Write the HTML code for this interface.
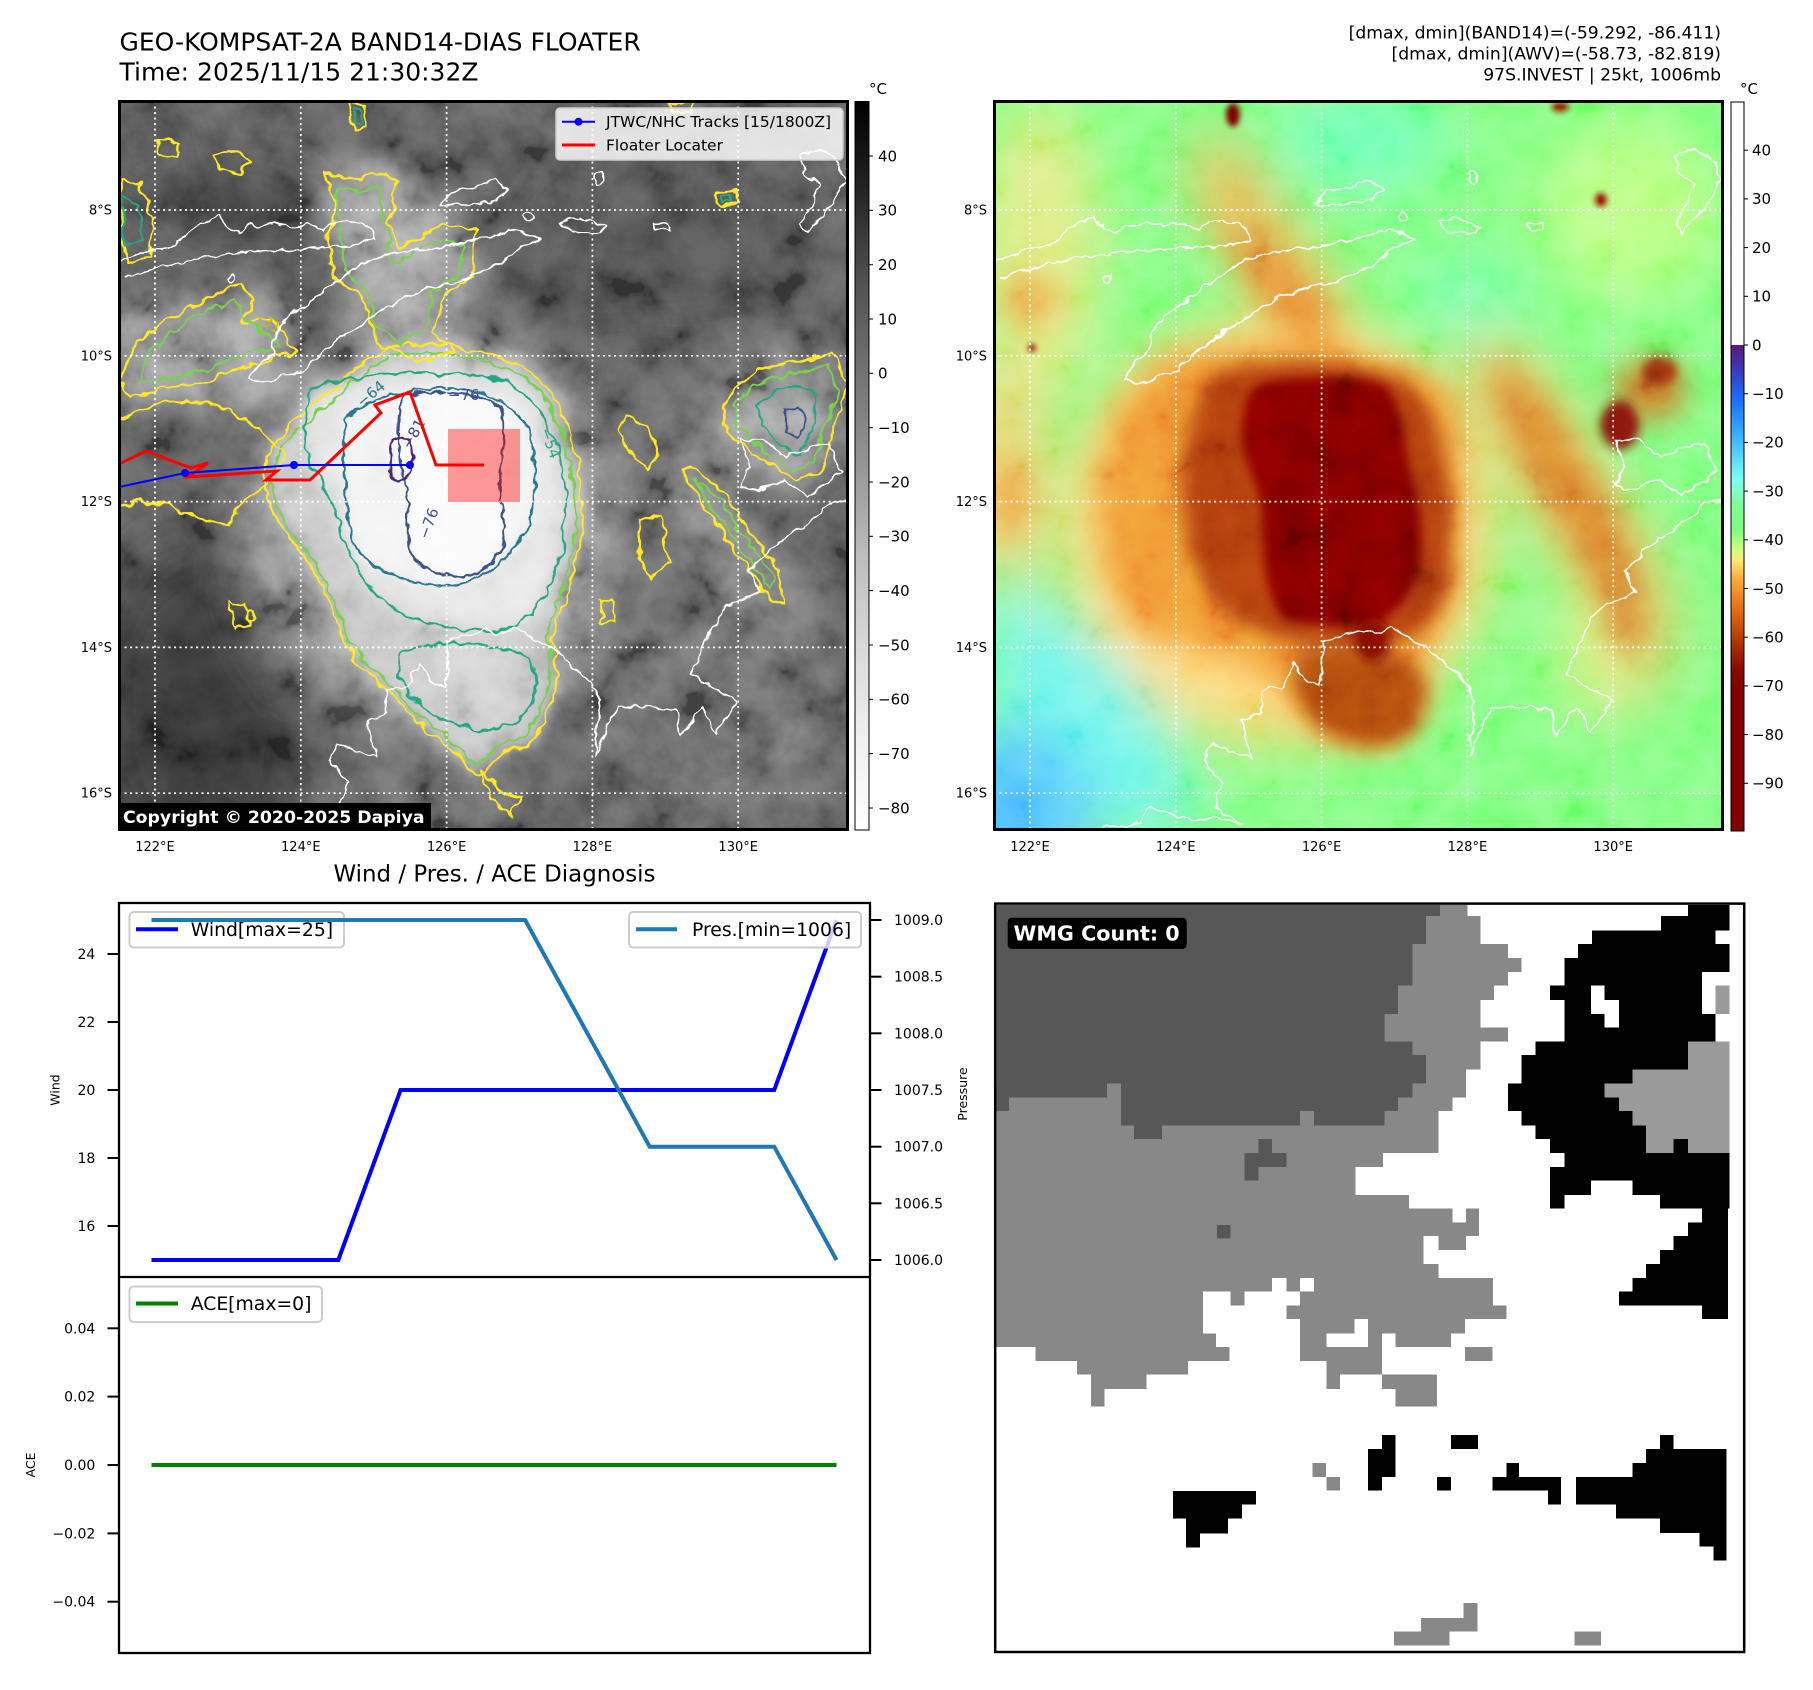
<!DOCTYPE html>
<html><head><meta charset="utf-8"><style>
html,body{margin:0;padding:0;background:#fff;width:1813px;height:1690px;overflow:hidden}
svg{display:block}
text{font-family:"DejaVu Sans","Liberation Sans",sans-serif}
</style></head><body>
<svg width="1813" height="1690" viewBox="0 0 1813 1690" xmlns="http://www.w3.org/2000/svg">
<defs>
<clipPath id="cl"><rect x="119" y="101" width="729" height="729"/></clipPath>
<clipPath id="cr"><rect x="994" y="101" width="729" height="729"/></clipPath>
<filter id="b28" x="-50%" y="-50%" width="200%" height="200%"><feGaussianBlur stdDeviation="28"/></filter>
<filter id="b16" x="-50%" y="-50%" width="200%" height="200%"><feGaussianBlur stdDeviation="16"/></filter>
<filter id="b9" x="-50%" y="-50%" width="200%" height="200%"><feGaussianBlur stdDeviation="9"/></filter>
<filter id="b5" x="-50%" y="-50%" width="200%" height="200%"><feGaussianBlur stdDeviation="5"/></filter>
<filter id="b3" x="-50%" y="-50%" width="200%" height="200%"><feGaussianBlur stdDeviation="3"/></filter>
<filter id="noise" x="0" y="0" width="100%" height="100%"><feTurbulence type="fractalNoise" baseFrequency="0.022" numOctaves="4" seed="7"/><feColorMatrix type="matrix" values="1.9 0 0 0 -0.45  1.9 0 0 0 -0.45  1.9 0 0 0 -0.45  0 0 0 0 1"/></filter>
<filter id="noise2" x="0" y="0" width="100%" height="100%"><feTurbulence type="fractalNoise" baseFrequency="0.025" numOctaves="4" seed="11"/><feColorMatrix type="matrix" values="1.6 0 0 0 -0.3  1.6 0 0 0 -0.3  1.6 0 0 0 -0.3  0 0 0 0 1"/></filter>
<filter id="wig" x="-5%" y="-5%" width="110%" height="110%"><feTurbulence type="fractalNoise" baseFrequency="0.07" numOctaves="2" seed="5" result="t"/><feDisplacementMap in="SourceGraphic" in2="t" scale="12" xChannelSelector="R" yChannelSelector="G"/></filter>
<filter id="wig2" x="-5%" y="-5%" width="110%" height="110%"><feTurbulence type="fractalNoise" baseFrequency="0.09" numOctaves="2" seed="9" result="t"/><feDisplacementMap in="SourceGraphic" in2="t" scale="8" xChannelSelector="R" yChannelSelector="G"/></filter>
<linearGradient id="gl" x1="0" y1="0" x2="0" y2="1">
<stop offset="0" stop-color="#000"/><stop offset="0.125" stop-color="#252525"/><stop offset="0.25" stop-color="#525252"/><stop offset="0.375" stop-color="#737373"/><stop offset="0.5" stop-color="#969696"/><stop offset="0.625" stop-color="#bdbdbd"/><stop offset="0.75" stop-color="#d9d9d9"/><stop offset="0.875" stop-color="#f0f0f0"/><stop offset="1" stop-color="#fff"/>
</linearGradient>
<linearGradient id="gr" x1="0" y1="0" x2="0" y2="1">
<stop offset="0" stop-color="#fff"/><stop offset="0.333" stop-color="#fff"/><stop offset="0.3335" stop-color="#5b1a78"/><stop offset="0.3676" stop-color="#3a3ab8"/><stop offset="0.4088" stop-color="#1a70ff"/><stop offset="0.4636" stop-color="#40b8ff"/><stop offset="0.5185" stop-color="#80fff0"/><stop offset="0.5528" stop-color="#80ff98"/><stop offset="0.5871" stop-color="#80ff80"/><stop offset="0.6145" stop-color="#d0ff80"/><stop offset="0.6283" stop-color="#ffe878"/><stop offset="0.6557" stop-color="#ffa838"/><stop offset="0.6996" stop-color="#e06a10"/><stop offset="0.738" stop-color="#b03a00"/><stop offset="0.7791" stop-color="#880800"/><stop offset="0.8066" stop-color="#800000"/><stop offset="1" stop-color="#800000"/>
</linearGradient>
<g id="coast" fill="none" stroke="#fff" stroke-width="1.6" stroke-linejoin="round">
<path d="M277,333 L272,353 L254,370 L249,380 L266,383 L301,370 L347,333 L399,300 L422,290 L462,280 L503,263 L520,247 L540,240 L526,233 L509,230 L491,237 L462,243 L416,250 L393,253 L370,260 L358,267 L335,283 L312,300 L289,317 Z"/>
<path d="M119,262 L150,250 L173,247 L185,236 L191,230 L205,222 L220,217 L228,228 L240,232 L252,224 L260,227 L275,222 L289,227 L305,224 L324,230 L335,222 L347,220 L360,224 L370,227 L376,240 L350,246 L324,247 L300,249 L277,250 L243,253 L208,257 L180,262 L150,270 L125,278"/>
<path d="M440,205 L452,192 L478,186 L495,180 L508,190 L496,200 L470,205 Z"/>
<path d="M562,222 L580,217 L605,227 L600,233 L575,232 Z"/>
<path d="M653,224 L668,223 L670,229 L656,230 Z"/>
<path d="M226,827 L265,823 L275,807 L300,815 L319,820 L340,818 L367,823 L338,807 L348,783 L328,760 L338,743 L357,752 L377,757 L367,720 L386,713 L386,690 L406,687 L420,663 L430,680 L445,687 L449,640 L465,636 L488,630 L500,634 L517,627 L535,640 L551,647 L565,660 L580,673 L592,685 L600,700 L597,730 L595,757 L607,725 L619,707 L648,707 L677,710 L680,737 L702,707 L716,733 L738,700 L716,690 L692,673 L702,650 L712,628 L726,607 L760,593 L750,570 L774,547 L803,527 L832,503 L848,500"/>
<path d="M740,440 L765,440 L784,457 L808,448 L828,443 L842,470 L808,497 L784,480 L760,490 L740,487 L750,467 Z"/>
<path d="M800,155 L820,150 L838,160 L846,180 L835,200 L822,215 L808,232 L800,225 L812,205 L820,185 L805,175 Z"/>
<path d="M232,275 a4,4 0 1,0 0.1,0 Z M528,212 a4,5 0 1,0 0.1,0 Z M598,172 a4,6 0 1,0 0.1,0 Z"/>
</g>
<g id="grid" stroke="#fff" stroke-width="1.7" stroke-dasharray="2.1 3.4">
<line x1="155" y1="101" x2="155" y2="830"/><line x1="300.8" y1="101" x2="300.8" y2="830"/><line x1="446.6" y1="101" x2="446.6" y2="830"/><line x1="592.4" y1="101" x2="592.4" y2="830"/><line x1="738.2" y1="101" x2="738.2" y2="830"/>
<line x1="119" y1="210" x2="848" y2="210"/><line x1="119" y1="355.8" x2="848" y2="355.8"/><line x1="119" y1="501.6" x2="848" y2="501.6"/><line x1="119" y1="647.4" x2="848" y2="647.4"/><line x1="119" y1="793.2" x2="848" y2="793.2"/>
</g>
</defs>

<!-- ===== Titles ===== -->
<text x="119.5" y="50.7" font-size="25">GEO-KOMPSAT-2A BAND14-DIAS FLOATER</text>
<text x="119.5" y="80.7" font-size="25">Time: 2025/11/15 21:30:32Z</text>
<g font-size="17.2" text-anchor="end">
<text x="1721" y="38.5">[dmax, dmin](BAND14)=(-59.292, -86.411)</text>
<text x="1721" y="59.5">[dmax, dmin](AWV)=(-58.73, -82.819)</text>
<text x="1721" y="80.5">97S.INVEST | 25kt, 1006mb</text>
</g>

<!-- ===== Left map ===== -->
<g clip-path="url(#cl)">
<rect x="119" y="101" width="729" height="729" fill="#585858"/>
<g filter="url(#b28)">
<ellipse cx="235" cy="205" rx="80" ry="30" fill="#383838"/>
<ellipse cx="335" cy="280" rx="45" ry="30" fill="#404040"/>
<ellipse cx="150" cy="140" rx="40" ry="30" fill="#4a4a4a"/>
<ellipse cx="580" cy="280" rx="70" ry="70" fill="#484848"/>
<ellipse cx="680" cy="230" rx="120" ry="110" fill="#4e4e4e"/>
<ellipse cx="650" cy="170" rx="60" ry="40" fill="#505050"/>
<ellipse cx="200" cy="710" rx="110" ry="170" fill="#363636"/>
<ellipse cx="720" cy="700" rx="140" ry="120" fill="#646464"/>
<ellipse cx="430" cy="805" rx="120" ry="40" fill="#646464"/>
<ellipse cx="780" cy="420" rx="65" ry="55" fill="#a0a0a0"/>
<path d="M640,420 L700,470 L780,580 L790,640 L760,620 L700,540 L650,470 Z" fill="#8c8c8c"/>
<ellipse cx="430" cy="530" rx="185" ry="200" fill="#8a8a8a"/>
</g>
<g filter="url(#b16)">
<path d="M324,171 L379,165 L410,182 L450,225 L475,240 L470,290 L440,330 L450,360 L380,365 L350,300 L330,270 L325,220 Z" fill="#9a9a9a"/>
<path d="M119,300 L175,305 L230,285 L285,300 L300,350 L285,400 L230,410 L160,400 L119,420 Z" fill="#8e8e8e"/>
</g>
<g filter="url(#b9)">
<path d="M400,345 C440,340 500,350 530,372 C560,395 578,440 582,505 C585,560 562,600 552,640 C565,680 550,720 528,745 C510,752 495,755 490,768 C480,780 470,772 462,760 C450,745 430,738 410,715 C390,690 360,670 345,645 C335,610 320,575 295,545 C268,515 258,480 270,450 C285,425 320,400 345,380 C365,360 380,350 400,345 Z" fill="#c2c2c2"/>
<path d="M320,385 C370,372 450,368 500,380 C540,395 565,440 566,500 C566,555 548,600 520,625 C490,636 440,630 400,612 C370,595 348,560 338,520 C330,490 308,470 305,440 C303,410 305,392 320,385 Z" fill="#e4e4e4"/>
<path d="M400,650 C440,640 500,640 530,660 C545,690 530,720 500,728 C470,735 440,720 420,705 C400,685 395,665 400,650 Z" fill="#cacaca"/>
</g>
<g filter="url(#b5)">
<path d="M345,420 C360,400 400,390 440,388 C480,388 515,400 528,430 C537,460 538,495 528,525 C515,555 490,578 450,586 C410,586 375,572 355,548 C345,520 342,460 345,420 Z" fill="#f2f2f2"/>
<path d="M405,395 C430,390 475,392 500,405 C508,430 498,470 500,500 C510,530 505,555 480,572 C455,582 425,575 412,555 C402,530 415,505 402,475 C396,440 398,410 405,395 Z" fill="#fbfbfb"/>
</g>
<rect x="119" y="101" width="729" height="729" filter="url(#noise)" opacity="0.35" style="mix-blend-mode:overlay"/>
<!-- contours -->
<g fill="none" stroke-width="2.2" stroke-linejoin="round" filter="url(#wig)">
<path d="M400,345 C440,340 500,350 530,372 C560,395 578,440 582,505 C585,560 562,600 552,640 C565,680 550,720 528,745 C510,752 495,755 490,768 C480,780 470,772 462,760 C450,745 430,738 410,715 C390,690 360,670 345,645 C335,610 320,575 295,545 C268,515 258,480 270,450 C285,425 320,400 345,380 C365,360 380,350 400,345 Z" stroke="#fde725"/>
<path d="M400,345 C440,340 500,350 530,372 C560,395 578,440 582,505 C585,560 562,600 552,640 C565,680 550,720 528,745 C510,752 495,755 490,768 C480,780 470,772 462,760 C450,745 430,738 410,715 C390,690 360,670 345,645 C335,610 320,575 295,545 C268,515 258,480 270,450 C285,425 320,400 345,380 C365,360 380,350 400,345 Z" stroke="#7ad151" transform="translate(430 540) scale(0.955) translate(-430 -540)" vector-effect="non-scaling-stroke"/>
<path d="M320,385 C370,372 450,368 500,380 C540,395 565,440 566,500 C566,555 548,600 520,625 C490,636 440,630 400,612 C370,595 348,560 338,520 C330,490 308,470 305,440 C303,410 305,392 320,385 Z" stroke="#22a884"/>
<path d="M400,650 C440,640 500,640 530,660 C545,690 530,720 500,728 C470,735 440,720 420,705 C400,685 395,665 400,650 Z" stroke="#22a884"/>
<path d="M324,171 L351,180 L379,171 L398,180 L389,222 L398,250 L444,222 L477,231 L472,278 L444,296 L435,333 L454,352 L417,361 L379,343 L361,296 L333,278 L328,240 L337,203 Z" stroke="#fde725"/>
<path d="M338,190 L355,192 L378,186 L385,225 L392,262 L440,240 L462,245 L460,275 L434,290 L424,330 L400,345 L375,325 L368,290 L345,270 L340,235 Z" stroke="#7ad151"/>
<path d="M175,315 L212,296 L240,282 L254,301 L240,324 L272,319 L296,352 L258,361 L212,380 L165,389 L133,399 L119,380 L140,340 Z" stroke="#fde725"/>
<path d="M185,322 L215,308 L236,300 L242,318 L262,330 L280,350 L250,352 L210,368 L170,378 L140,382 L150,350 Z" stroke="#7ad151"/>
<path d="M119,420 L150,405 L190,400 L230,410 L260,430 L285,455 L270,480 L245,500 L230,525 L200,520 L170,505 L140,500 L119,505" stroke="#fde725"/>
<path d="M757,370 L792,363 L832,353 L847,383 L832,433 L821,473 L798,480 L769,467 L728,430 L723,407 L740,383 Z" stroke="#fde725"/>
<path d="M765,380 L795,373 L828,366 L838,390 L824,430 L812,465 L795,470 L772,458 L738,426 L734,408 L748,390 Z" stroke="#7ad151"/>
<path d="M775,392 L800,386 L818,395 L812,430 L800,455 L784,448 L760,425 L758,405 Z" stroke="#22a884"/>
<path d="M682,470 L707,510 L741,560 L770,600 L784,603 L780,570 L746,527 L726,493 L692,467 Z" stroke="#fde725"/>
<path d="M695,480 L715,512 L745,555 L770,590 L774,575 L740,530 L722,500 Z" stroke="#7ad151"/>
<path d="M625,415 L645,425 L660,450 L650,470 L630,455 L620,430 Z" stroke="#fde725"/>
<path d="M157,140 L180,142 L178,157 L160,155 Z M213,155 L230,150 L253,160 L240,173 L220,168 Z" stroke="#fde725"/>
<path d="M120,180 L140,182 L153,220 L150,257 L128,262 L122,230 Z" stroke="#fde725"/>
<path d="M122,195 L138,205 L142,240 L126,245 Z" stroke="#22a884"/>
<path d="M640,520 L660,515 L668,560 L652,580 L640,560 Z M600,600 L612,598 L615,620 L602,622 Z" stroke="#fde725"/>
<path d="M480,770 L500,790 L520,800 L510,815 L490,800 Z" stroke="#fde725"/>
<path d="M230,600 L245,605 L250,625 L235,628 Z M250,610 a4,5 0 1,0 0.1,0 Z" stroke="#fde725"/>
</g>
<g fill="none" stroke-width="2.2" stroke-linejoin="round" filter="url(#wig2)">
<path d="M345,420 C360,400 400,390 440,388 C480,388 515,400 528,430 C537,460 538,495 528,525 C515,555 490,578 450,586 C410,586 375,572 355,548 C345,520 342,460 345,420 Z" stroke="#2a788e"/>
<path d="M405,395 C430,390 475,392 500,405 C508,430 498,470 500,500 C510,530 505,555 480,572 C455,582 425,575 412,555 C402,530 415,505 402,475 C396,440 398,410 405,395 Z" stroke="#3b528b"/>
<path d="M392,440 C402,432 415,440 412,460 C410,480 398,488 390,475 Z" stroke="#482878"/>
<path d="M785,410 L798,405 L806,420 L798,440 L786,432 Z" stroke="#3b528b"/>
<path d="M350,103 L364,106 L366,128 L355,130 L349,115 Z M714,192 L734,190 L738,203 L720,206 Z M668,103 L694,103 L692,112 L672,112 Z" stroke="#fde725"/>
<path d="M354,108 L361,110 L361,124 L355,122 Z M720,195 L730,194 L731,201 L722,202 Z" stroke="#22a884"/>
</g>
<g font-size="15">
<text x="362" y="408" fill="#2a788e" transform="rotate(-40 362 408)">−64</text>
<text x="448" y="400" fill="#3b528b">−76</text>
<text x="410" y="450" fill="#414487" transform="rotate(-60 410 450)">−81</text>
<text x="540" y="430" fill="#22a884" transform="rotate(70 540 430)">−54</text>
<text x="250" y="318" fill="#c9b820" transform="rotate(30 250 318)">−31</text>
<text x="428" y="540" fill="#3b528b" transform="rotate(-70 428 540)">−76</text>
</g>
<g filter="url(#wig2)"><use href="#coast"/></g>
<use href="#grid"/>
<rect x="448" y="429" width="72" height="73" fill="#ff0000" fill-opacity="0.4"/>
<polyline points="121,463 146,451 191,468 208,463 188,477 277,471 266,480 310,480 381,413 375,405 410,392 436,465 484,465" fill="none" stroke="#ff0000" stroke-width="3"/>
<polyline points="119,487 185,473 294,465 410,465" fill="none" stroke="#0000ff" stroke-width="2"/>
<circle cx="185" cy="473" r="4" fill="#0000ff"/><circle cx="294" cy="465" r="4" fill="#0000ff"/><circle cx="410" cy="465" r="4" fill="#0000ff"/>
<rect x="556" y="108" width="287" height="52" rx="4" fill="#fff" fill-opacity="0.82" stroke="#cccccc" stroke-width="1.5"/>
<line x1="562" y1="121.7" x2="595" y2="121.7" stroke="#0000ff" stroke-width="2"/><circle cx="578.5" cy="121.7" r="4" fill="#0000ff"/>
<line x1="562" y1="145" x2="595" y2="145" stroke="#ff0000" stroke-width="3"/>
<text x="606" y="127.2" font-size="15.5">JTWC/NHC Tracks [15/1800Z]</text>
<text x="606" y="150.5" font-size="15.5">Floater Locater</text>
<rect x="119" y="803" width="312" height="27" fill="#000"/>
<text x="123" y="823" font-size="17.3" font-weight="bold" fill="#fff">Copyright © 2020-2025 Dapiya</text>
</g>
<rect x="119.5" y="101.5" width="728" height="728" fill="none" stroke="#000" stroke-width="3"/>

<!-- map tick labels -->
<g font-size="13" text-anchor="end">
<text x="112" y="214.5">8°S</text><text x="112" y="360.3">10°S</text><text x="112" y="506.1">12°S</text><text x="112" y="651.9">14°S</text><text x="112" y="797.7">16°S</text>
<text x="987" y="214.5">8°S</text><text x="987" y="360.3">10°S</text><text x="987" y="506.1">12°S</text><text x="987" y="651.9">14°S</text><text x="987" y="797.7">16°S</text>
</g>
<g font-size="13" text-anchor="middle">
<text x="155" y="851">122°E</text><text x="300.8" y="851">124°E</text><text x="446.6" y="851">126°E</text><text x="592.4" y="851">128°E</text><text x="738.2" y="851">130°E</text>
<text x="1030" y="851">122°E</text><text x="1175.8" y="851">124°E</text><text x="1321.6" y="851">126°E</text><text x="1467.4" y="851">128°E</text><text x="1613.2" y="851">130°E</text>
</g>

<!-- left colorbar -->
<rect x="855" y="101.5" width="14" height="728.5" fill="url(#gl)" stroke="#000" stroke-width="1"/>
<text x="869" y="94" font-size="15">°C</text>
<g stroke="#000" stroke-width="1">
<line x1="869" y1="156" x2="873" y2="156"/><line x1="869" y1="210.3" x2="873" y2="210.3"/><line x1="869" y1="264.7" x2="873" y2="264.7"/><line x1="869" y1="319" x2="873" y2="319"/><line x1="869" y1="373.3" x2="873" y2="373.3"/><line x1="869" y1="427.7" x2="873" y2="427.7"/><line x1="869" y1="482" x2="873" y2="482"/><line x1="869" y1="536.3" x2="873" y2="536.3"/><line x1="869" y1="590.6" x2="873" y2="590.6"/><line x1="869" y1="645" x2="873" y2="645"/><line x1="869" y1="699.3" x2="873" y2="699.3"/><line x1="869" y1="753.6" x2="873" y2="753.6"/><line x1="869" y1="808" x2="873" y2="808"/>
</g>
<g font-size="15">
<text x="878" y="161.3">40</text><text x="878" y="215.6">30</text><text x="878" y="270">20</text><text x="878" y="324.3">10</text><text x="878" y="378.6">0</text><text x="878" y="433">−10</text><text x="878" y="487.3">−20</text><text x="878" y="541.6">−30</text><text x="878" y="596">−40</text><text x="878" y="650.3">−50</text><text x="878" y="704.6">−60</text><text x="878" y="759">−70</text><text x="878" y="813.3">−80</text>
</g>

<!-- ===== Right map ===== -->
<g clip-path="url(#cr)">
<rect x="994" y="101" width="729" height="729" fill="#80ff80"/>
<g filter="url(#b28)">
<ellipse cx="1040" cy="250" rx="60" ry="150" fill="#e0ec80"/>
<ellipse cx="1005" cy="470" rx="45" ry="120" fill="#f0d878"/>
<ellipse cx="1360" cy="140" rx="90" ry="50" fill="#70ffb8"/>
<ellipse cx="1470" cy="300" rx="60" ry="40" fill="#78ffb0"/>
<ellipse cx="1630" cy="210" rx="90" ry="90" fill="#b8ff80"/>
<path d="M1190,140 L1240,145 L1295,235 L1345,300 L1350,365 L1300,355 L1258,292 L1205,215 Z" fill="#f8b050"/>
<ellipse cx="1280" cy="530" rx="215" ry="215" fill="#ffd878"/>
<path d="M994,580 L1060,610 L1120,660 L1170,730 L1200,830 L994,830 Z" fill="#70f6ec"/>
<ellipse cx="1010" cy="820" rx="80" ry="90" fill="#50c0ff"/>
<path d="M1470,330 C1510,335 1550,380 1580,430 C1610,480 1650,540 1670,600 C1680,650 1660,710 1620,710 C1595,660 1585,600 1555,550 C1525,500 1495,440 1465,390 Z" fill="#f0c060"/>
<ellipse cx="1600" cy="650" rx="40" ry="70" fill="#d8f080"/>
</g>
<g filter="url(#b16)">
<path d="M1170,355 C1250,340 1400,345 1445,390 C1465,430 1462,520 1458,570 C1455,610 1440,640 1420,650 C1430,690 1420,740 1380,748 C1340,750 1300,730 1285,690 C1260,660 1200,650 1160,640 C1120,620 1100,570 1098,510 C1096,450 1115,390 1170,355 Z" fill="#f09432"/>
<path d="M1215,210 L1260,245 L1320,300 L1338,350 L1300,345 L1258,290 Z" fill="#e88a30"/>
<ellipse cx="1030" cy="300" rx="30" ry="25" fill="#f0b050"/>
<ellipse cx="1010" cy="500" rx="22" ry="40" fill="#f0a848"/>
<path d="M1500,360 C1530,380 1560,430 1590,480 C1615,520 1640,570 1645,630 C1640,660 1625,665 1615,640 C1600,590 1580,540 1550,500 C1520,450 1500,410 1495,370 Z" fill="#d87a28"/>
<ellipse cx="1650" cy="390" rx="35" ry="30" fill="#d07020"/>
</g>
<g filter="url(#b9)">
<path d="M1220,370 C1280,355 1390,360 1420,390 C1445,430 1455,500 1452,560 C1448,610 1430,635 1400,640 C1360,650 1300,645 1270,635 C1220,620 1190,580 1185,520 C1180,460 1185,400 1220,370 Z" fill="#b03c08"/>
<path d="M1300,655 C1340,645 1400,650 1420,670 C1435,700 1420,735 1390,745 C1350,750 1315,735 1300,705 C1290,685 1292,665 1300,655 Z" fill="#b04a10"/>
</g>
<g filter="url(#b5)">
<path d="M1262,383 C1300,375 1360,375 1385,385 C1400,400 1405,440 1410,470 C1420,500 1425,540 1418,575 C1405,605 1390,620 1368,625 C1340,628 1300,625 1282,618 C1265,595 1262,555 1262,510 C1258,480 1240,460 1242,430 C1242,405 1248,390 1262,383 Z" fill="#800000"/>
<ellipse cx="1372" cy="640" rx="18" ry="22" fill="#801000"/>
<ellipse cx="1620" cy="425" rx="20" ry="25" fill="#801808"/>
<ellipse cx="1660" cy="372" rx="18" ry="14" fill="#a03010"/>
</g>
<g filter="url(#b3)">
<ellipse cx="1233" cy="115" rx="7" ry="12" fill="#800000"/>
<ellipse cx="1560" cy="107" rx="9" ry="5" fill="#900800"/>
<ellipse cx="1601" cy="200" rx="6" ry="7" fill="#900800"/>
<ellipse cx="1032" cy="348" rx="4" ry="4" fill="#800000"/>
</g>
<rect x="994" y="101" width="729" height="729" filter="url(#noise2)" opacity="0.2" style="mix-blend-mode:overlay"/>
<g filter="url(#wig2)"><use href="#coast" transform="translate(875 0)"/></g>
<use href="#grid" transform="translate(875 0)"/>
</g>
<rect x="994.5" y="101.5" width="728" height="728" fill="none" stroke="#000" stroke-width="3"/>

<!-- right colorbar -->
<rect x="1731" y="102" width="13" height="729" fill="url(#gr)" stroke="#000" stroke-width="1"/>
<text x="1740" y="94" font-size="15">°C</text>
<g stroke="#000" stroke-width="1">
<line x1="1744" y1="150.2" x2="1748" y2="150.2"/><line x1="1744" y1="198.9" x2="1748" y2="198.9"/><line x1="1744" y1="247.6" x2="1748" y2="247.6"/><line x1="1744" y1="296.3" x2="1748" y2="296.3"/><line x1="1744" y1="345" x2="1748" y2="345"/><line x1="1744" y1="393.7" x2="1748" y2="393.7"/><line x1="1744" y1="442.4" x2="1748" y2="442.4"/><line x1="1744" y1="491.1" x2="1748" y2="491.1"/><line x1="1744" y1="539.8" x2="1748" y2="539.8"/><line x1="1744" y1="588.5" x2="1748" y2="588.5"/><line x1="1744" y1="637.2" x2="1748" y2="637.2"/><line x1="1744" y1="685.9" x2="1748" y2="685.9"/><line x1="1744" y1="734.6" x2="1748" y2="734.6"/><line x1="1744" y1="783.3" x2="1748" y2="783.3"/>
</g>
<g font-size="15">
<text x="1752" y="155.5">40</text><text x="1752" y="204.2">30</text><text x="1752" y="252.9">20</text><text x="1752" y="301.6">10</text><text x="1752" y="350.3">0</text><text x="1752" y="399">−10</text><text x="1752" y="447.7">−20</text><text x="1752" y="496.4">−30</text><text x="1752" y="545.1">−40</text><text x="1752" y="593.8">−50</text><text x="1752" y="642.5">−60</text><text x="1752" y="691.2">−70</text><text x="1752" y="739.9">−80</text><text x="1752" y="788.6">−90</text>
</g>

<!-- ===== Bottom-left diagnosis ===== -->
<text x="494.5" y="881.5" font-size="22.9" text-anchor="middle">Wind / Pres. / ACE Diagnosis</text>
<polyline points="151.5,1260 213.8,1260 276,1260 338.3,1260 400.6,1090 462.9,1090 525.1,1090 587.4,1090 649.7,1090 711.9,1090 774.2,1090 836.5,920" fill="none" stroke="#0000ff" stroke-width="4"/>
<rect x="129.5" y="912" width="214.5" height="35.5" rx="4" fill="#fff" fill-opacity="0.8" stroke="#cccccc" stroke-width="2"/>
<line x1="136" y1="929.3" x2="178" y2="929.3" stroke="#0000ff" stroke-width="4"/>
<text x="190.7" y="936" font-size="18.8">Wind[max=25]</text>
<polyline points="151.5,920 213.8,920 276,920 338.3,920 400.6,920 462.9,920 525.1,920 587.4,1033.3 649.7,1146.7 711.9,1146.7 774.2,1146.7 836.5,1260" fill="none" stroke="#1f77b4" stroke-width="4"/>
<rect x="629" y="912" width="232" height="35.5" rx="4" fill="#fff" fill-opacity="0.8" stroke="#cccccc" stroke-width="2"/>
<line x1="636" y1="929.3" x2="677" y2="929.3" stroke="#1f77b4" stroke-width="4"/>
<text x="692" y="936" font-size="18.8">Pres.[min=1006]</text>
<line x1="151.5" y1="1465" x2="836.5" y2="1465" stroke="#008000" stroke-width="4"/>
<rect x="129.5" y="1286.5" width="192.5" height="35.5" rx="4" fill="#fff" fill-opacity="0.8" stroke="#cccccc" stroke-width="2"/>
<line x1="136" y1="1303.5" x2="178" y2="1303.5" stroke="#008000" stroke-width="4"/>
<text x="190.7" y="1310.2" font-size="18.8">ACE[max=0]</text>
<rect x="119" y="903" width="751" height="750" fill="none" stroke="#000" stroke-width="2.3"/>
<line x1="119" y1="1277" x2="870" y2="1277" stroke="#000" stroke-width="2.3"/>
<g stroke="#000" stroke-width="2">
<line x1="107.5" y1="954" x2="119" y2="954"/><line x1="107.5" y1="1022" x2="119" y2="1022"/><line x1="107.5" y1="1090" x2="119" y2="1090"/><line x1="107.5" y1="1158" x2="119" y2="1158"/><line x1="107.5" y1="1226" x2="119" y2="1226"/>
<line x1="870" y1="920" x2="881.5" y2="920"/><line x1="870" y1="976.7" x2="881.5" y2="976.7"/><line x1="870" y1="1033.3" x2="881.5" y2="1033.3"/><line x1="870" y1="1090" x2="881.5" y2="1090"/><line x1="870" y1="1146.7" x2="881.5" y2="1146.7"/><line x1="870" y1="1203.3" x2="881.5" y2="1203.3"/><line x1="870" y1="1260" x2="881.5" y2="1260"/>
<line x1="107.5" y1="1328.3" x2="119" y2="1328.3"/><line x1="107.5" y1="1396.6" x2="119" y2="1396.6"/><line x1="107.5" y1="1465" x2="119" y2="1465"/><line x1="107.5" y1="1533.4" x2="119" y2="1533.4"/><line x1="107.5" y1="1601.7" x2="119" y2="1601.7"/>
</g>
<g font-size="14" text-anchor="end">
<text x="95.3" y="959">24</text><text x="95.3" y="1027">22</text><text x="95.3" y="1095">20</text><text x="95.3" y="1163">18</text><text x="95.3" y="1231">16</text>
<text x="95.3" y="1333.3">0.04</text><text x="95.3" y="1401.6">0.02</text><text x="95.3" y="1470">0.00</text><text x="95.3" y="1538.4">−0.02</text><text x="95.3" y="1606.7">−0.04</text>
</g>
<g font-size="14">
<text x="894" y="925">1009.0</text><text x="894" y="981.7">1008.5</text><text x="894" y="1038.3">1008.0</text><text x="894" y="1095">1007.5</text><text x="894" y="1151.7">1007.0</text><text x="894" y="1208.3">1006.5</text><text x="894" y="1265">1006.0</text>
</g>
<g font-size="12.5" text-anchor="middle">
<text transform="translate(59.5 1090) rotate(-90)">Wind</text>
<text transform="translate(967 1094) rotate(-90)">Pressure</text>
<text transform="translate(35 1465) rotate(-90)">ACE</text>
</g>

<!-- ===== Bottom-right WMG ===== -->
<g transform="translate(980 890) scale(0.5038)" shape-rendering="crispEdges">
<g fill="#888888">
<rect x="33" y="30" width="935" height="22"/><rect x="33" y="52" width="960" height="55"/><rect x="33" y="107" width="1015" height="28"/><rect x="33" y="135" width="1042" height="28"/><rect x="33" y="163" width="1015" height="27"/><rect x="33" y="190" width="987" height="28"/><rect x="33" y="218" width="960" height="55"/><rect x="33" y="273" width="1015" height="28"/><rect x="33" y="301" width="960" height="55"/><rect x="33" y="356" width="932" height="28"/><rect x="30" y="384" width="935" height="28"/><rect x="30" y="412" width="908" height="27"/><rect x="30" y="439" width="880" height="83"/><rect x="30" y="522" width="770" height="28"/><rect x="30" y="550" width="715" height="55"/><rect x="30" y="605" width="822" height="27"/><rect x="30" y="632" width="908" height="28"/><rect x="965" y="632" width="25" height="28"/><rect x="30" y="660" width="960" height="27"/><rect x="30" y="687" width="850" height="28"/><rect x="910" y="687" width="55" height="28"/><rect x="30" y="715" width="850" height="27"/><rect x="30" y="742" width="880" height="28"/><rect x="30" y="770" width="550" height="27"/><rect x="608" y="770" width="27" height="27"/><rect x="663" y="770" width="355" height="27"/><rect x="30" y="797" width="413" height="28"/><rect x="497" y="797" width="28" height="28"/><rect x="635" y="797" width="383" height="28"/><rect x="30" y="825" width="413" height="27"/><rect x="608" y="825" width="437" height="27"/><rect x="30" y="852" width="413" height="28"/><rect x="635" y="852" width="108" height="28"/><rect x="770" y="852" width="193" height="28"/><rect x="30" y="880" width="438" height="27"/><rect x="635" y="880" width="53" height="27"/><rect x="770" y="880" width="28" height="27"/><rect x="825" y="880" width="110" height="27"/><rect x="110" y="907" width="385" height="28"/><rect x="635" y="907" width="163" height="28"/><rect x="963" y="907" width="54" height="28"/><rect x="193" y="935" width="220" height="27"/><rect x="688" y="935" width="110" height="27"/><rect x="220" y="962" width="110" height="28"/><rect x="688" y="962" width="27" height="28"/><rect x="798" y="962" width="109" height="28"/><rect x="220" y="990" width="27" height="35"/><rect x="825" y="990" width="82" height="35"/>
<rect x="660" y="1137" width="27" height="28"/><rect x="688" y="1165" width="27" height="27"/><rect x="960" y="1415" width="27" height="30"/><rect x="875" y="1445" width="112" height="27"/><rect x="822" y="1472" width="110" height="28"/><rect x="1180" y="1472" width="53" height="28"/>
</g>
<g fill="#575757">
<rect x="33" y="30" width="880" height="22"/><rect x="33" y="52" width="852" height="55"/><rect x="33" y="107" width="825" height="83"/><rect x="33" y="190" width="797" height="56"/><rect x="33" y="246" width="770" height="55"/><rect x="33" y="301" width="825" height="27"/><rect x="33" y="328" width="852" height="56"/><rect x="30" y="384" width="222" height="28"/><rect x="280" y="384" width="578" height="28"/><rect x="30" y="412" width="28" height="27"/><rect x="280" y="412" width="550" height="27"/><rect x="280" y="439" width="355" height="28"/><rect x="663" y="439" width="140" height="28"/><rect x="306" y="467" width="55" height="27"/>
<rect x="553" y="494" width="27" height="28"/><rect x="525" y="522" width="83" height="28"/><rect x="525" y="550" width="28" height="27"/><rect x="470" y="665" width="27" height="27"/>
</g>
<g fill="#9a9a9a">
<rect x="1460" y="190" width="28" height="56"/><rect x="1405" y="301" width="83" height="55"/><rect x="1295" y="356" width="193" height="28"/><rect x="1240" y="384" width="248" height="28"/><rect x="1268" y="412" width="220" height="27"/><rect x="1295" y="439" width="193" height="28"/><rect x="1322" y="467" width="166" height="55"/>
</g>
<g fill="#000">
<rect x="1405" y="30" width="83" height="22"/><rect x="1352" y="52" width="136" height="28"/><rect x="1215" y="80" width="245" height="27"/><rect x="1187" y="107" width="301" height="28"/><rect x="1160" y="135" width="328" height="28"/><rect x="1160" y="163" width="273" height="27"/><rect x="1131" y="190" width="82" height="28"/><rect x="1240" y="190" width="193" height="28"/><rect x="1160" y="218" width="53" height="28"/><rect x="1268" y="218" width="165" height="28"/><rect x="1160" y="246" width="80" height="27"/><rect x="1268" y="246" width="192" height="27"/><rect x="1160" y="273" width="300" height="28"/><rect x="1103" y="301" width="302" height="27"/><rect x="1075" y="328" width="330" height="28"/><rect x="1075" y="356" width="220" height="28"/><rect x="1048" y="384" width="192" height="28"/><rect x="1048" y="412" width="220" height="27"/><rect x="1075" y="439" width="220" height="28"/><rect x="1103" y="467" width="219" height="27"/><rect x="1131" y="494" width="191" height="28"/><rect x="1377" y="494" width="28" height="28"/><rect x="1160" y="522" width="328" height="28"/><rect x="1131" y="550" width="357" height="27"/><rect x="1131" y="577" width="82" height="28"/><rect x="1295" y="577" width="193" height="28"/><rect x="1131" y="605" width="29" height="27"/><rect x="1350" y="605" width="138" height="27"/><rect x="1433" y="632" width="52" height="28"/><rect x="1405" y="660" width="80" height="27"/><rect x="1377" y="687" width="108" height="28"/><rect x="1350" y="715" width="135" height="27"/><rect x="1322" y="742" width="163" height="28"/><rect x="1295" y="770" width="190" height="27"/><rect x="1268" y="797" width="217" height="28"/><rect x="1433" y="825" width="52" height="27"/>
<rect x="798" y="1082" width="27" height="28"/><rect x="935" y="1082" width="53" height="28"/><rect x="1350" y="1082" width="27" height="28"/><rect x="770" y="1110" width="55" height="27"/><rect x="1322" y="1110" width="160" height="27"/><rect x="770" y="1137" width="55" height="28"/><rect x="1045" y="1137" width="25" height="28"/><rect x="1295" y="1137" width="187" height="28"/><rect x="770" y="1165" width="28" height="27"/><rect x="907" y="1165" width="28" height="27"/><rect x="1017" y="1165" width="136" height="27"/><rect x="1183" y="1165" width="299" height="27"/><rect x="1127" y="1192" width="26" height="28"/><rect x="1183" y="1192" width="299" height="28"/><rect x="383" y="1193" width="165" height="27"/><rect x="1262" y="1220" width="220" height="28"/><rect x="383" y="1220" width="137" height="28"/><rect x="1350" y="1248" width="132" height="28"/><rect x="409" y="1248" width="83" height="29"/><rect x="1428" y="1276" width="54" height="27"/><rect x="409" y="1277" width="28" height="28"/><rect x="1456" y="1303" width="26" height="28"/>
</g>
</g>
<rect x="995.2" y="903.6" width="749" height="748.4" fill="none" stroke="#000" stroke-width="2.5"/>
<rect x="1007.7" y="917.7" width="179" height="31.2" rx="4" fill="#000"/>
<text x="1013.5" y="940.3" font-size="20.7" font-weight="bold" fill="#fff">WMG Count: 0</text>
</svg>
</body></html>
